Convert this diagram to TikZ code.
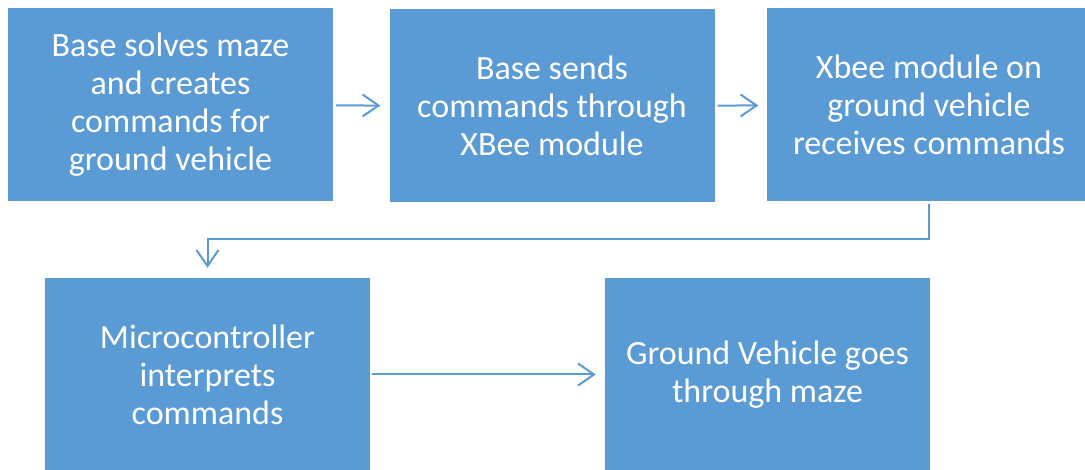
\documentclass[tikz,border=0pt]{standalone}
\usepackage{fontspec}
\setmainfont{Carlito}
\usetikzlibrary{arrows.meta,positioning}

\definecolor{boxblue}{HTML}{5B9BD5}

\tikzset{
  stepbox/.style={fill=boxblue,text=white,minimum width=325pt,minimum height=193pt,
    inner sep=0pt,align=center,
    font=\fontsize{34}{38}\selectfont},
  flow/.style={draw=boxblue,line width=2pt,-{Straight Barb[length=16pt,width=22pt,line width=2pt]}}
}

\begin{document}
\begin{tikzpicture}[x=1pt,y=1pt]
    \useasboundingbox (0,0) rectangle (1085,470);
    \clip (0,0) rectangle (1085,470);
    % top row
    \node[stepbox] at (170.5,365) (solve) {Base solves maze\\and creates\\commands for\\ground vehicle};
    \node[stepbox] at (552,364) (send) {Base sends\\commands through\\XBee module};
    \node[stepbox] at (929,365) (recv) {Xbee module on\\ground vehicle\\receives commands};
    % bottom row
    \node[stepbox] at (207.5,95.5) (mcu) {Microcontroller\\interprets\\commands};
    \node[stepbox] at (767.5,95.5) (drive) {Ground Vehicle goes\\through maze};
    \draw[flow,shorten <=3pt,shorten >=9pt] (solve) -- (send);
    \draw[flow,shorten <=3pt,shorten >=8pt] (send) -- (recv);
    \draw[flow,shorten <=2pt,shorten >=10pt] (recv.south) -- ++(0,-37) -| (mcu.north);
    \draw[flow,shorten <=2pt,shorten >=9pt] (mcu) -- (drive);
\end{tikzpicture}
\end{document}
